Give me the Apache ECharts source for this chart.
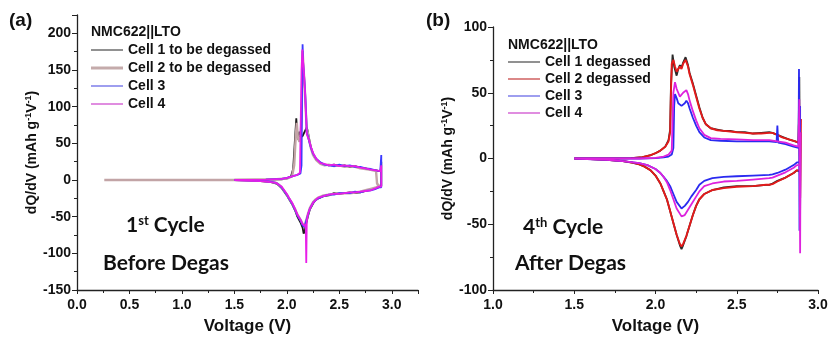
<!DOCTYPE html>
<html>
<head>
<meta charset="utf-8">
<script src="https://cdn.jsdelivr.net/npm/echarts@6/dist/echarts.min.js"></script>
<style>
  html, body { margin: 0; padding: 0; background: #fff; }
  #chart { width: 832px; height: 344px; }
</style>
</head>
<body>
<div id="chart"></div>
<script>
// ---- Panel (a): 1st cycle, before degassing  [voltage V, dQ/dV mAh g-1 V-1] ----
const firstCycleCell1 = [
  [1.5,0],[1.8,0.5],[1.95,1],[2.0,2],[2.04,5],[2.06,15],[2.075,50],[2.09,84],[2.1,62],[2.11,55],
  [2.12,66],[2.13,58],[2.15,60],[2.17,66],[2.19,72],[2.2,66],[2.21,58],[2.23,44],[2.25,35],[2.28,28],
  [2.32,23],[2.36,21],[2.4,20],[2.45,21],[2.5,19],[2.55,20],[2.6,18],[2.65,19],[2.7,17],[2.75,16],
  [2.8,14],[2.85,13],[2.88,12],[2.9,14],[2.9,25],[2.9,-8],
  [2.88,-9],[2.85,-11],[2.8,-13],[2.75,-15],[2.7,-17],[2.65,-18],[2.6,-17],[2.5,-19],[2.45,-18],
  [2.4,-21],[2.35,-22],[2.3,-25],[2.27,-28],[2.25,-32],[2.22,-40],[2.2,-50],[2.18,-62],[2.17,-70],
  [2.16,-73],[2.15,-65],[2.13,-58],[2.1,-50],[2.08,-42],[2.05,-33],[2.02,-26],[2.0,-21],[1.97,-15],
  [1.95,-11],[1.92,-7],[1.9,-5],[1.85,-3],[1.75,-1.5],[1.6,-0.5],[1.5,0]
];
const firstCycleCell2 = [
  [0.26,0],[1.0,0],[1.5,0.3],[1.9,1],[2.0,2],[2.05,5],[2.07,20],[2.085,60],[2.095,78],[2.105,58],
  [2.12,52],[2.13,60],[2.14,80],[2.15,176],[2.16,150],[2.17,128],[2.18,95],[2.19,70],[2.2,64],
  [2.21,56],[2.23,43],[2.25,34],[2.28,27],[2.32,22],[2.36,20],[2.4,21],[2.45,19],[2.5,20],[2.55,18],
  [2.6,19],[2.65,18],[2.7,16],[2.75,15],[2.8,14],[2.85,12],[2.86,12],[2.86,-5],[2.88,-8],
  [2.85,-10],[2.8,-12],[2.75,-14],[2.7,-16],[2.65,-17],[2.6,-18],[2.5,-18],[2.45,-19],[2.4,-20],
  [2.35,-21],[2.3,-24],[2.27,-27],[2.25,-30],[2.22,-38],[2.2,-47],[2.18,-57],[2.17,-62],[2.16,-64],
  [2.15,-60],[2.13,-54],[2.1,-47],[2.08,-40],[2.05,-32],[2.02,-25],[2.0,-20],[1.97,-14],[1.95,-10],
  [1.92,-6],[1.9,-4],[1.85,-2.5],[1.75,-1.2],[1.6,-0.4],[1.5,0]
];
const firstCycleCell3 = [
  [1.5,0],[1.8,0.5],[1.95,1.5],[2.0,3],[2.05,5],[2.1,7],[2.13,9],[2.14,20],[2.145,120],[2.15,185],
  [2.155,160],[2.165,140],[2.175,118],[2.185,85],[2.19,64],[2.2,60],[2.21,54],[2.23,44],[2.25,36],
  [2.28,29],[2.32,24],[2.36,21],[2.4,20],[2.45,19],[2.5,21],[2.55,19],[2.6,20],[2.65,18],[2.7,18],
  [2.75,16],[2.8,15],[2.85,13],[2.89,12],[2.9,34],[2.9,-10],
  [2.88,-10],[2.85,-12],[2.8,-14],[2.75,-15],[2.7,-17],[2.65,-16],[2.6,-18],[2.5,-18],[2.45,-20],
  [2.4,-20],[2.35,-22],[2.3,-25],[2.27,-28],[2.25,-31],[2.22,-39],[2.2,-48],[2.18,-58],[2.17,-64],
  [2.16,-66],[2.15,-62],[2.13,-55],[2.1,-48],[2.08,-41],[2.05,-32],[2.02,-25],[2.0,-20],[1.97,-14],
  [1.95,-10],[1.92,-6],[1.9,-4],[1.85,-2.5],[1.75,-1.2],[1.6,-0.4],[1.5,0]
];
const firstCycleCell4 = [
  [1.5,0],[1.8,0.5],[1.95,1.5],[2.0,3],[2.05,5],[2.1,7],[2.125,10],[2.13,60],[2.14,150],[2.148,178],
  [2.155,162],[2.165,142],[2.175,115],[2.185,80],[2.19,62],[2.2,64],[2.21,55],[2.23,45],[2.25,37],
  [2.28,29],[2.32,23],[2.36,22],[2.4,20],[2.45,21],[2.5,19],[2.55,20],[2.6,19],[2.65,19],[2.7,17],
  [2.75,16],[2.8,14],[2.85,13],[2.89,12],[2.9,20],[2.9,-9],
  [2.88,-9],[2.85,-11],[2.8,-14],[2.75,-15],[2.7,-16],[2.65,-17],[2.6,-17],[2.5,-19],[2.45,-19],
  [2.4,-20],[2.35,-22],[2.3,-24],[2.27,-28],[2.25,-31],[2.22,-39],[2.2,-47],[2.19,-56],[2.185,-113],
  [2.18,-60],[2.17,-63],[2.16,-65],[2.15,-60],[2.13,-54],[2.1,-47],[2.08,-40],[2.05,-31],[2.02,-24],
  [2.0,-19],[1.97,-13],[1.95,-9],[1.92,-6],[1.9,-4],[1.85,-3],[1.75,-1.5],[1.6,-0.8],[1.5,0]
];

// ---- Panel (b): 4th cycle, after degassing ----
const fourthCycleCell1 = [
  [1.5,0],[1.7,0],[1.85,0.3],[1.92,1],[1.97,2.5],[2.0,4],[2.03,6],[2.06,9],[2.08,14],[2.09,22],
  [2.095,55],[2.105,79],[2.115,70],[2.13,63],[2.14,68],[2.15,71],[2.16,69],[2.17,73],[2.185,77],
  [2.2,71],[2.21,65],[2.23,57],[2.25,48],[2.27,39],[2.29,31],[2.31,26],[2.34,23],[2.38,22],[2.42,21],
  [2.46,21],[2.5,20],[2.55,20],[2.6,19],[2.65,19.5],[2.7,20],[2.72,19.5],[2.75,18],[2.78,16.5],
  [2.82,14.5],[2.86,13],[2.88,12],[2.885,62],[2.89,-40],[2.893,20],[2.89,-10],
  [2.87,-9],[2.85,-11],[2.8,-14.5],[2.75,-17],[2.72,-19],[2.7,-20],[2.68,-20],[2.6,-21],[2.5,-21],
  [2.42,-22],[2.35,-24],[2.3,-27],[2.27,-31],[2.25,-36],[2.23,-43],[2.21,-51],[2.19,-59],[2.17,-66],
  [2.16,-69],[2.15,-66],[2.13,-58],[2.11,-49],[2.09,-40],[2.07,-31],[2.05,-25],[2.03,-19],[2.0,-13],
  [1.97,-9],[1.93,-6],[1.9,-4.5],[1.85,-3],[1.8,-2],[1.7,-1],[1.6,-0.5],[1.5,0]
];
const fourthCycleCell2 = [
  [1.5,0],[1.7,0],[1.85,0.3],[1.92,1],[1.97,2.5],[2.0,4],[2.03,6],[2.06,9],[2.08,13],[2.09,20],
  [2.095,50],[2.1,72],[2.11,75],[2.12,70],[2.13,66],[2.14,68],[2.15,70],[2.16,68],[2.17,72],
  [2.185,75],[2.2,70],[2.21,64],[2.23,56],[2.25,47],[2.27,38],[2.29,31],[2.31,26],[2.34,23],
  [2.38,21.5],[2.42,21],[2.46,20.5],[2.5,20],[2.55,19.5],[2.6,19],[2.65,19],[2.7,19.5],[2.72,19.5],
  [2.75,18],[2.78,16],[2.82,14.5],[2.86,13],[2.88,12],[2.885,40],[2.89,-30],[2.895,30],[2.89,-9],
  [2.87,-9],[2.85,-11],[2.8,-14.5],[2.75,-17.5],[2.72,-19.5],[2.7,-20],[2.68,-20],[2.6,-21],
  [2.5,-21.5],[2.42,-22.5],[2.35,-24],[2.3,-27],[2.27,-31],[2.25,-36],[2.23,-43],[2.21,-51],
  [2.19,-59],[2.17,-65],[2.16,-67],[2.15,-65],[2.13,-58],[2.11,-49],[2.09,-40],[2.07,-31],
  [2.05,-25],[2.03,-19],[2.0,-13],[1.97,-9],[1.93,-6],[1.9,-4.5],[1.85,-3],[1.8,-2],[1.7,-1],
  [1.6,-0.5],[1.5,0]
];
const fourthCycleCell3 = [
  [1.5,0],[1.9,0],[2.0,0.3],[2.05,0.8],[2.08,1.5],[2.1,3],[2.11,8],[2.115,40],[2.12,49],[2.13,46],
  [2.14,42],[2.15,41],[2.16,40],[2.17,39],[2.18,42],[2.19,44],[2.2,42],[2.21,38],[2.23,31],[2.25,25],
  [2.27,20],[2.3,16],[2.34,14],[2.4,13.5],[2.5,13],[2.6,13],[2.7,13],[2.745,12.5],[2.75,25],
  [2.755,12],[2.8,11],[2.85,9],[2.88,8],[2.883,68],[2.886,-55],[2.89,40],[2.89,-3],
  [2.87,-3],[2.85,-5],[2.8,-8.5],[2.75,-11],[2.72,-12],[2.7,-12.5],[2.6,-13],[2.5,-13.5],[2.42,-14],
  [2.35,-15],[2.3,-17],[2.27,-20],[2.25,-24],[2.22,-29],[2.2,-33],[2.18,-36],[2.16,-38],[2.15,-37],
  [2.13,-33],[2.11,-27],[2.09,-21],[2.07,-17],[2.05,-14],[2.03,-11],[2.0,-8],[1.95,-5],[1.9,-3.5],
  [1.8,-2],[1.7,-1],[1.5,0]
];
const fourthCycleCell4 = [
  [1.5,0],[1.9,0],[2.0,0.5],[2.05,1.5],[2.08,3],[2.1,6],[2.105,30],[2.11,50],[2.12,58],[2.13,53],
  [2.14,50],[2.15,47],[2.16,48],[2.17,50],[2.19,52],[2.2,49],[2.21,44],[2.23,36],[2.25,29],[2.27,23],
  [2.3,18],[2.34,15.5],[2.4,15],[2.5,14.5],[2.6,14],[2.7,14],[2.75,13],[2.8,12],[2.85,10],[2.88,9],
  [2.885,45],[2.89,-72],[2.893,20],[2.89,-5],
  [2.87,-5],[2.85,-7],[2.8,-10.5],[2.75,-13],[2.72,-14.5],[2.7,-15],[2.6,-16],[2.5,-17],[2.42,-17.5],
  [2.35,-19],[2.3,-21],[2.27,-25],[2.25,-29],[2.22,-35],[2.2,-39],[2.18,-43],[2.16,-44],[2.15,-43],
  [2.13,-38],[2.11,-31],[2.09,-24],[2.07,-18],[2.05,-14],[2.03,-11],[2.0,-8],[1.95,-5],[1.9,-3.5],
  [1.8,-2],[1.7,-1],[1.5,0]
];

// Axis ranges and label steps
const xRangeA = [0, 3.25], yRangeA = [-150, 225];
const xRangeB = [1, 3], yRangeB = [-100, 100];
const xStep = 0.5, yStep = 50;

const namesA = ['Cell 1 to be degassed', 'Cell 2 to be degassed', 'Cell 3', 'Cell 4'];
// trailing space keeps the (b) legend entries separate from the (a) ones
const namesB = ['Cell 1 degassed', 'Cell 2 degassed', 'Cell 3 ', 'Cell 4 '];

const BOLD = '"Liberation Sans", Arial, sans-serif';
const ANNOT = 'Lato, "Open Sans", sans-serif';

// thin horizontal bar used as a legend key; thickness given in px relative to 32 px length
const keyIcon = t => 'path://M0,0H32V' + t + 'H0Z';

function xAxisCfg(range, gridIndex) {
  return {
    type: 'value', gridIndex, min: range[0], max: range[1], interval: xStep,
    name: 'Voltage (V)', nameLocation: 'middle', nameGap: 28,
    nameTextStyle: { fontFamily: BOLD, fontWeight: 'bold', fontSize: 17, color: '#111' },
    axisLine: { onZero: false, lineStyle: { color: '#222', width: 1.3 } },
    axisTick: { show: true, length: 4, lineStyle: { color: '#222', width: 1 } },
    minorTick: { show: true, splitNumber: 2, length: 3, lineStyle: { color: '#222', width: 1 } },
    splitLine: { show: false },
    axisLabel: {
      fontFamily: BOLD, fontWeight: 'bold', fontSize: 14, color: '#111', margin: 8,
      showMaxLabel: range[1] % xStep === 0,
      formatter: v => v.toFixed(1)
    }
  };
}
function yAxisCfg(range, gridIndex, gap) {
  return {
    type: 'value', gridIndex, min: range[0], max: range[1], interval: yStep,
    name: 'dQ/dV (mAh g{s|-1}V{s|-1})', nameLocation: 'middle', nameGap: gap, nameRotate: 90,
    nameTextStyle: {
      fontFamily: BOLD, fontWeight: 'bold', fontSize: 14, color: '#111',
      rich: { s: { fontFamily: BOLD, fontWeight: 'bold', fontSize: 9, color: '#111', verticalAlign: 'top', padding: [0, 0, 7, 0] } }
    },
    axisLine: { onZero: false, lineStyle: { color: '#222', width: 1.3 } },
    axisTick: { show: true, length: 5, lineStyle: { color: '#222', width: 1 } },
    minorTick: { show: true, splitNumber: 2, length: 3, lineStyle: { color: '#222', width: 1 } },
    splitLine: { show: false },
    axisLabel: {
      fontFamily: BOLD, fontWeight: 'bold', fontSize: 14, color: '#111', margin: 6,
      showMaxLabel: range[1] % yStep === 0
    }
  };
}

function lineSeries(name, data, color, width, axis) {
  return {
    name, type: 'line', data, xAxisIndex: axis, yAxisIndex: axis,
    symbol: 'none', smooth: false, silent: true,
    lineStyle: { color, width }, itemStyle: { color }
  };
}

function legendCfg(items, left, top, gap) {
  return {
    data: items, orient: 'vertical', left, top, padding: 0, itemGap: gap,
    itemWidth: 32, itemHeight: 14, selectedMode: false, symbolKeepAspect: true,
    formatter: n => n.trim(),
    textStyle: { fontFamily: BOLD, fontWeight: 'bold', fontSize: 14, color: '#111' }
  };
}

const legendA = [
  { name: namesA[0], icon: keyIcon(1.3), itemStyle: { color: '#555' } },
  { name: namesA[1], icon: keyIcon(3), itemStyle: { color: '#c4abab' } },
  { name: namesA[2], icon: keyIcon(1.3), itemStyle: { color: '#6a6ae6' } },
  { name: namesA[3], icon: keyIcon(1.3), itemStyle: { color: '#d050d0' } }
];
const legendB = [
  { name: namesB[0], icon: keyIcon(1.3), itemStyle: { color: '#555' } },
  { name: namesB[1], icon: keyIcon(1.3), itemStyle: { color: '#c84848' } },
  { name: namesB[2], icon: keyIcon(1.3), itemStyle: { color: '#6a6ae6' } },
  { name: namesB[3], icon: keyIcon(1.3), itemStyle: { color: '#d050d0' } }
];

const chart = echarts.init(document.getElementById('chart'), null, { renderer: 'canvas' });
chart.setOption({
  animation: false,
  backgroundColor: '#fff',
  grid: [
    { left: 77, top: 15, width: 341, height: 275 },
    { left: 493, top: 27, width: 325, height: 263 }
  ],
  xAxis: [xAxisCfg(xRangeA, 0), xAxisCfg(xRangeB, 1)],
  yAxis: [yAxisCfg(yRangeA, 0, 36), yAxisCfg(yRangeB, 1, 37)],
  legend: [legendCfg(legendA, 91, 43, 4), legendCfg(legendB, 508, 55, 3)],
  series: [
    lineSeries(namesA[0], firstCycleCell1, '#1a1a1a', 1.8, 0),
    lineSeries(namesA[1], firstCycleCell2, '#c2a4a6', 2.4, 0),
    lineSeries(namesA[2], firstCycleCell3, '#3a3aff', 1.8, 0),
    lineSeries(namesA[3], firstCycleCell4, '#e81ee8', 1.8, 0),
    lineSeries(namesB[0], fourthCycleCell1, '#2a2a2a', 1.8, 1),
    lineSeries(namesB[1], fourthCycleCell2, '#e41a1a', 1.9, 1),
    lineSeries(namesB[2], fourthCycleCell3, '#2a2af0', 1.8, 1),
    lineSeries(namesB[3], fourthCycleCell4, '#dd22dd', 1.8, 1)
  ],
  graphic: [
    { type: 'text', left: 9, top: 11, style: { text: '(a)', font: 'bold 19px ' + BOLD, fill: '#111' } },
    { type: 'text', left: 426, top: 11, style: { text: '(b)', font: 'bold 19px ' + BOLD, fill: '#111' } },
    { type: 'text', left: 91, top: 25, style: { text: 'NMC622||LTO', font: 'bold 14px ' + BOLD, fill: '#111' } },
    { type: 'text', left: 508, top: 38, style: { text: 'NMC622||LTO', font: 'bold 14px ' + BOLD, fill: '#111' } },
    { type: 'text', left: 126, top: 214, style: {
        text: '1{s|st} Cycle', font: 'bold 21px ' + ANNOT, fill: '#111',
        rich: { s: { font: 'bold 13px ' + ANNOT, fill: '#111', verticalAlign: 'top', padding: [0, 0, 9, 0] } } } },
    { type: 'text', left: 103, top: 253, style: { text: 'Before Degas', font: 'bold 21px ' + ANNOT, fill: '#111' } },
    { type: 'text', left: 523, top: 216, style: {
        text: '4{s|th} Cycle', font: 'bold 21px ' + ANNOT, fill: '#111',
        rich: { s: { font: 'bold 13px ' + ANNOT, fill: '#111', verticalAlign: 'top', padding: [0, 0, 9, 0] } } } },
    { type: 'text', left: 515, top: 253, style: { text: 'After Degas', font: 'bold 21px ' + ANNOT, fill: '#111' } }
  ]
});
</script>
</body>
</html>
